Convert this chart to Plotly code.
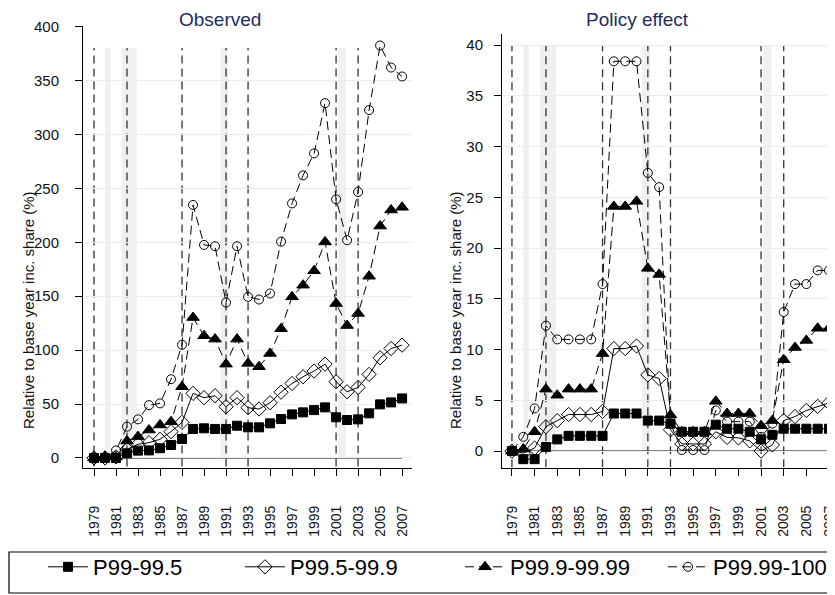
import plotly.graph_objects as go

# years on the x axis
years = list(range(1979, 2008))

# Observed: change relative to base year income share (%)
obs_p99_995 = [0, 0, 0, 4.3, 6.8, 7, 9, 12, 17.6, 26.9, 27.5, 26.9, 26.9, 29.9, 28.4,
               28.4, 32.1, 36.1, 40.4, 42.3, 44.4, 46.9, 37.7, 35.2, 35.8, 41.4, 49.7, 51.5, 55.2]
obs_p995_999 = [0, 0, 1, 8, 12.7, 14.2, 17.3, 24.4, 33, 59.9, 55.9, 57.7, 47.5, 55.9, 46.6,
                45.4, 51.2, 61, 69.1, 75.3, 80.6, 87, 70.7, 61.4, 65.4, 77.5, 92.9, 101.5, 104.6]
obs_p999_9999 = [0, 1.5, 1, 15.7, 19.8, 25.9, 30.6, 33.6, 66, 130.2, 113.3, 110.2, 87, 110.2, 87.7,
                 84.6, 96.9, 119.8, 149.4, 160.2, 173.5, 200.3, 143.2, 122.8, 134, 168.5, 215, 229.9, 232.4]
obs_p9999_100 = [0, 0, 7, 29, 35.8, 49, 50.6, 73, 105, 234.6, 197.5, 196.3, 144.1, 196.3, 149.4,
                 146.9, 152.5, 200.6, 236, 262, 282.4, 329, 239.8, 201.9, 246.6, 322.5, 382.4, 362, 353.7]

# Policy effect
pol_p99_995 = [0, -0.8, -0.8, 0.4, 1.15, 1.5, 1.5, 1.5, 1.5, 3.7, 3.7, 3.7, 3.0, 3.0, 2.7,
               1.9, 1.9, 1.9, 2.6, 2.2, 2.2, 1.9, 1.15, 1.6, 2.2, 2.2, 2.2, 2.2, 2.2]
pol_p995_999 = [0, -0.2, 0.3, 2.4, 3.0, 3.6, 3.6, 3.6, 3.9, 10.1, 10.1, 10.35, 7.5, 7.15, 2.1,
                0.7, 0.7, 0.7, 1.9, 1.35, 1.3, 1.0, 0, 0.6, 3.0, 3.4, 4.0, 4.4, 4.75]
pol_p999_9999 = [0, 0.2, 1.9, 6.1, 5.5, 6.1, 6.1, 6.1, 9.6, 24.1, 24.1, 24.6, 18.0, 17.4, 3.55,
                 1.9, 1.9, 1.9, 4.9, 3.7, 3.7, 3.7, 2.5, 3.0, 9.0, 10.2, 10.9, 12.1, 12.1]
pol_p9999_100 = [0, 1.4, 4.2, 12.35, 11.0, 11.0, 11.0, 11.0, 16.45, 38.4, 38.4, 38.4, 27.4, 26.0, 2.7,
                 0.1, 0.1, 0.1, 4.0, 2.9, 2.9, 2.9, 1.4, 2.7, 13.7, 16.45, 16.45, 17.8, 17.8]

series_names = ["P99-99.5", "P99.5-99.9", "P99.9-99.99", "P99.99-100"]

# tax reform years (dashed lines) and recessions (grey bands)
reform_years = [1979, 1982, 1987, 1991, 1993, 2001, 2003]
recession_start = [1980.0, 1981.5, 1990.5, 2001.2]
recession_end = [1980.5, 1982.9, 1991.2, 2001.9]

FONT = "Liberation Sans, Arial, sans-serif"
W, H = 835, 595
PAGE = 8  # the page body margin shifts the figure by this much

def px(x):
    return (x - PAGE) / W

def py(y):
    return 1 - (y - PAGE) / H

styles = [
    dict(symbol="square", size=9, dash="solid"),
    dict(symbol="diamond-open", size=11, dash="solid"),
    dict(symbol="triangle-up", size=11, dash="9px,5px"),
    dict(symbol="circle-open", size=9, dash="9px,5px"),
]
legend_ids = ["legend", "legend2", "legend3", "legend4"]
legend_text_x = [93, 290, 510, 713]  # where each legend label starts (px)

fig = go.Figure()

panels = [
    ("x", "y", [obs_p99_995, obs_p995_999, obs_p999_9999, obs_p9999_100]),
    ("x2", "y2", [pol_p99_995, pol_p995_999, pol_p999_9999, pol_p9999_100]),
]

for k, (xa, ya, data) in enumerate(panels):
    for name, vals, st, lg in zip(series_names, data, styles, legend_ids):
        fig.add_trace(go.Scatter(
            x=years, y=vals, name=name, xaxis=xa, yaxis=ya,
            mode="lines+markers",
            line=dict(color="black", width=1, dash=st["dash"]),
            marker=dict(symbol=st["symbol"], size=st["size"], color="black",
                        line=dict(color="black", width=1)),
            showlegend=(k == 0), legend=lg,
        ))

# reference lines and bands
band_top = {"y": 380, "y2": 40}
line_bot = {"y": -8, "y2": -1.6}
for xa, ya in [("x", "y"), ("x2", "y2")]:
    for a, b in zip(recession_start, recession_end):
        fig.add_shape(type="rect", xref=xa, yref=ya, x0=a, x1=b, y0=0, y1=band_top[ya],
                      fillcolor="#f0f0f0", line_width=0, layer="below")
    for yr in reform_years:
        fig.add_shape(type="line", xref=xa, yref=ya, x0=yr, x1=yr,
                      y0=line_bot[ya], y1=band_top[ya],
                      line=dict(color="#333333", width=1.3, dash="8px,5px"), layer="below")
    fig.add_shape(type="line", xref=xa, yref=ya, x0=years[0], x1=years[-1], y0=0, y1=0,
                  line=dict(color="#111111", width=1.3), layer="below")

xcommon = dict(
    tickvals=list(range(1979, 2008, 2)), tickangle=-90,
    ticks="outside", ticklen=7, tickcolor="black",
    showline=True, linecolor="black", linewidth=1,
    showgrid=False, zeroline=False, ticklabelstandoff=24, automargin=False,
    tickfont=dict(family=FONT, size=14, color="#111111"),
)
ycommon = dict(
    ticks="outside", ticklen=7, tickcolor="black",
    showline=True, linecolor="black", linewidth=1, automargin=False,
    showgrid=True, gridcolor="#e6eef0", gridwidth=1, zeroline=False,
    tickfont=dict(family=FONT, size=15, color="#111111"),
)

legend_common = dict(orientation="h", xanchor="left", y=py(567), yanchor="middle",
                     font=dict(family=FONT, size=22, color="black"),
                     bgcolor="rgba(0,0,0,0)", itemwidth=40)

layout_legends = {}
for lg, tx in zip(legend_ids, legend_text_x):
    layout_legends[lg] = dict(legend_common, x=px(tx - 50))

fig.update_layout(
    width=W, height=H,
    margin=dict(l=0, r=0, t=0, b=0),
    paper_bgcolor="white", plot_bgcolor="white",
    font=dict(family=FONT, color="black"),
    xaxis=dict(xcommon, domain=[px(83), px(412)], range=[1978.0, 2007.9], anchor="y"),
    yaxis=dict(ycommon, domain=[py(468), py(26)], range=[-9.3, 400.5],
               tickvals=list(range(0, 401, 50)), anchor="x", ticklabelstandoff=13),
    xaxis2=dict(xcommon, domain=[px(502), px(835)], range=[1978.12, 2007.53], anchor="y2"),
    yaxis2=dict(ycommon, domain=[py(468), py(34)], range=[-1.67, 41.09],
                tickvals=list(range(0, 41, 5)), anchor="x2", ticklabelstandoff=8),
    showlegend=True,
    **layout_legends,
)

# legend frame
fig.add_shape(type="rect", xref="paper", yref="paper", x0=px(9), x1=px(845),
              y0=py(593), y1=py(552), line=dict(color="black", width=1.2))

# titles and axis titles
title_color = "#1f2d5c"
fig.add_annotation(text="Observed", x=px(220), y=py(19), xref="paper", yref="paper",
                   xanchor="center", yanchor="middle", showarrow=False,
                   font=dict(family=FONT, size=19, color=title_color))
fig.add_annotation(text="Policy effect", x=px(637), y=py(19), xref="paper", yref="paper",
                   xanchor="center", yanchor="middle", showarrow=False,
                   font=dict(family=FONT, size=19, color=title_color))
for xc in [28, 455]:
    fig.add_annotation(text="Relative to base year inc. share (%)", textangle=-90,
                       x=px(xc), y=py(310), xref="paper", yref="paper",
                       xanchor="center", yanchor="middle", showarrow=False,
                       font=dict(family=FONT, size=15, color="#111111"))

fig.write_html("out.html")
